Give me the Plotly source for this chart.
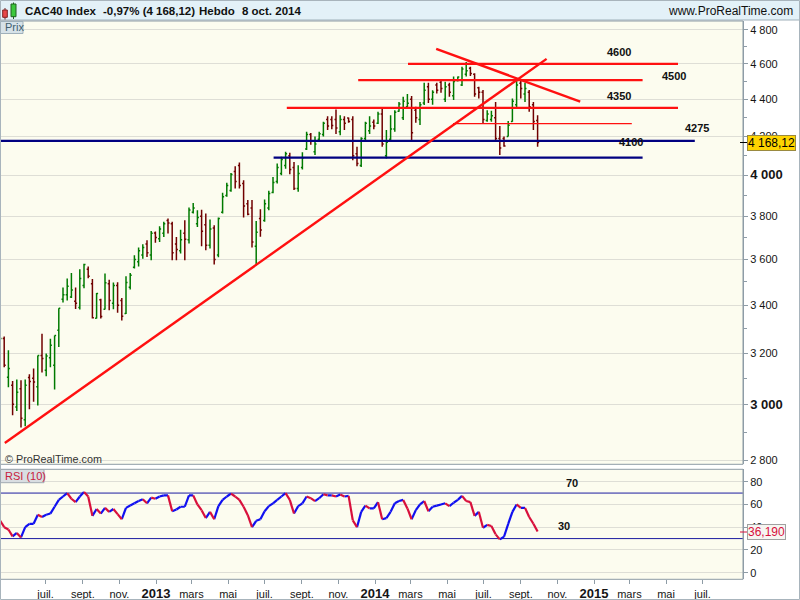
import plotly.graph_objects as go
import pandas as pd
import math

# ---------------- data ----------------
week_start = "2012-04-16"
n_weeks = 129
dates = pd.date_range(week_start, periods=n_weeks, freq="7D")

opens = [3210, 3261, 3106, 3075, 2992, 3062, 2945, 3105, 3102, 3069,
         3192, 3133, 3183, 3153, 3294, 3425, 3444, 3435, 3416, 3390,
         3485, 3556, 3492, 3344, 3423, 3382, 3492, 3408, 3485, 3420,
         3364, 3477, 3565, 3590, 3620, 3670, 3620, 3722, 3695, 3720,
         3780, 3765, 3670, 3640, 3720, 3690, 3820, 3765, 3800, 3760,
         3665, 3745, 3620, 3820, 3900, 3925, 4020, 4050, 3960, 3860,
         3840, 3660, 3790, 3780, 3840, 3915, 3970, 4010, 4050, 4100,
         4040, 3935, 4040, 4135, 4210, 4120, 4185, 4210, 4290, 4290,
         4290, 4225, 4290, 4298, 4290, 4110, 4050, 4190, 4230, 4275,
         4270, 4320, 4100, 4185, 4240, 4335, 4300, 4360, 4400, 4340,
         4290, 4380, 4470, 4400, 4480, 4495, 4400, 4480, 4420, 4505,
         4480, 4540, 4575, 4540, 4465, 4440, 4285, 4290, 4300, 4190,
         4190, 4200, 4280, 4370, 4490, 4430, 4440, 4370, 4285]
highs = [3290, 3269, 3213, 3091, 3097, 3094, 3097, 3118, 3140, 3192,
         3280, 3200, 3260, 3273, 3387, 3476, 3515, 3540, 3476, 3556,
         3581, 3568, 3513, 3452, 3427, 3537, 3510, 3498, 3499, 3430,
         3525, 3540, 3619, 3654, 3669, 3688, 3731, 3729, 3753, 3774,
         3790, 3774, 3703, 3737, 3782, 3842, 3864, 3829, 3832, 3813,
         3785, 3758, 3795, 3914, 3963, 4012, 4046, 4065, 3976, 3878,
         3878, 3778, 3834, 3881, 3924, 3992, 4060, 4094, 4120, 4115,
         4068, 4051, 4118, 4225, 4218, 4200, 4225, 4278, 4308, 4308,
         4344, 4313, 4308, 4301, 4308, 4146, 4196, 4278, 4308, 4290,
         4332, 4350, 4234, 4313, 4341, 4386, 4414, 4429, 4418, 4359,
         4386, 4493, 4493, 4450, 4493, 4504, 4498, 4493, 4528, 4528,
         4583, 4611, 4583, 4546, 4470, 4452, 4341, 4337, 4386, 4255,
         4200, 4282, 4405, 4517, 4508, 4493, 4452, 4386, 4313]
lows = [3180, 3145, 3067, 2962, 2977, 2916, 2921, 2984, 3012, 2998,
        3125, 3110, 3145, 3059, 3226, 3411, 3420, 3430, 3383, 3381,
        3472, 3516, 3343, 3343, 3343, 3381, 3378, 3382, 3368, 3335,
        3362, 3467, 3560, 3569, 3603, 3611, 3596, 3676, 3680, 3703,
        3719, 3596, 3596, 3627, 3596, 3673, 3814, 3750, 3660, 3642,
        3650, 3577, 3610, 3814, 3894, 3919, 3935, 3935, 3795, 3805,
        3654, 3574, 3704, 3774, 3829, 3911, 3960, 4001, 4034, 4006,
        3927, 3919, 4030, 4129, 4157, 4103, 4181, 4200, 4234, 4238,
        4213, 4207, 4234, 4273, 4077, 4046, 4043, 4181, 4213, 4238,
        4266, 4146, 4086, 4181, 4225, 4332, 4287, 4350, 4181, 4273,
        4261, 4369, 4380, 4370, 4433, 4437, 4386, 4414, 4396, 4500,
        4474, 4528, 4531, 4414, 4405, 4270, 4278, 4278, 4181, 4103,
        4146, 4200, 4278, 4350, 4405, 4386, 4332, 4234, 4146]
closes = [3261, 3153, 3140, 3003, 3048, 2950, 3075, 3090, 3088, 3192,
          3180, 3190, 3233, 3273, 3387, 3444, 3481, 3465, 3408, 3515,
          3577, 3525, 3346, 3450, 3352, 3497, 3420, 3485, 3399, 3353,
          3498, 3530, 3600, 3640, 3655, 3630, 3720, 3700, 3740, 3765,
          3768, 3630, 3645, 3690, 3692, 3830, 3840, 3795, 3730, 3665,
          3740, 3600, 3790, 3895, 3950, 4005, 3970, 3950, 3850, 3810,
          3680, 3725, 3735, 3860, 3910, 3965, 4040, 4080, 4110, 4030,
          3935, 4010, 4090, 4210, 4175, 4160, 4215, 4270, 4255, 4258,
          4245, 4290, 4270, 4280, 4100, 4060, 4190, 4270, 4255, 4255,
          4320, 4160, 4170, 4240, 4330, 4375, 4390, 4378, 4220, 4300,
          4370, 4450, 4400, 4440, 4450, 4460, 4470, 4440, 4500, 4525,
          4570, 4560, 4545, 4430, 4440, 4290, 4320, 4310, 4190, 4140,
          4150, 4260, 4390, 4480, 4460, 4460, 4360, 4280, 4168.12]
rsi10 = [46, 40, 38, 32, 35, 31, 40, 43, 43, 51,
         49, 51, 52, 58, 64, 67, 70, 65, 62, 67,
         71, 67, 50, 56, 52, 57, 53.5, 56, 51.5, 47,
         57, 59, 61, 63, 64.6, 61, 66, 65, 67, 68,
         68, 54, 55.6, 58, 58, 68, 68, 60, 55, 48,
         53.5, 47, 58.5, 64, 67, 69.6, 67, 64, 58, 50.6,
         40, 45.6, 47, 54, 58.5, 61, 64, 67, 70, 64,
         52, 58.5, 61, 67, 65.5, 63, 65.5, 69, 68, 68,
         67, 68.7, 67, 67.5, 46, 40, 53.5, 59, 56.5, 56.5,
         62, 47, 48, 53.5, 61, 63, 64, 56.5, 47, 55,
         60, 63, 54, 58, 59, 60, 61, 58.5, 61.5, 64,
         67.5, 63, 62, 50, 53.5, 39.5, 42, 41, 33.7, 29.3,
         31.6, 43, 53.5, 60, 57, 57, 49, 43, 36.19]

last_close_label = "4 168,12"
last_rsi_label = "36,190"

# drawn support / resistance levels
level_values = [4600, 4507, 4353, 4268, 4177, 4090]
level_starts = ["2014-02-25", "2013-12-04", "2013-08-07", "2014-05-11", None, "2013-07-16"]
level_ends = ["2015-05-21", "2015-03-23", "2015-05-21", "2015-03-05", "2015-06-18", "2015-03-23"]
level_names = ["4600", "4500", "4350", "4275", "4100"]

trend_up_dates = ["2012-04-24", "2014-10-14"]
trend_up_values = [2860, 4629]
trend_down_dates = ["2014-04-13", "2014-12-09"]
trend_down_values = [4687, 4388]

price_ticks = [2800, 3000, 3200, 3400, 3600, 3800, 4000, 4200, 4400, 4600, 4800]
price_minor = [2900, 3100, 3300, 3500, 3700, 3900, 4100, 4300, 4500, 4700]
rsi_ticks = [0, 20, 40, 60, 80]
rsi_levels = [70, 30]

month_ticks = ["2012-07-01", "2012-09-01", "2012-11-01", "2013-01-01", "2013-03-01",
               "2013-05-01", "2013-07-01", "2013-09-01", "2013-11-01", "2014-01-01",
               "2014-03-01", "2014-05-01", "2014-07-01", "2014-09-01", "2014-11-01",
               "2015-01-01", "2015-03-01", "2015-05-01", "2015-07-01"]
month_labels = ["juil.", "sept.", "nov.", "2013", "mars", "mai", "juil.", "sept.", "nov.",
                "2014", "mars", "mai", "juil.", "sept.", "nov.", "2015", "mars", "mai", "juil."]

# ---------------- helpers ----------------
W, H = 800, 600
def px(x):
    return x / W
def py(y):
    return 1 - y / H

FONT = "Liberation Sans, Arial, sans-serif"
X_START = pd.Timestamp("2012-04-17 16:00")
X_END = X_START + pd.Timedelta(days=742 / 0.6)

def fmt_price(v):
    s = f"{v:,}".replace(",", " ")
    if v % 1000 == 0:
        return f"<span style='font-size:13px'><b>{s}</b></span>"
    return s

def fmt_month(lbl):
    if lbl.isdigit():
        return f"<span style='font-size:13px'><b>{lbl}</b></span>"
    return lbl

fig = go.Figure()

# OHLC bars
fig.add_trace(go.Ohlc(
    x=dates, open=opens, high=highs, low=lows, close=closes,
    xaxis="x2", yaxis="y2",
    increasing=dict(line=dict(color="#007A00", width=1.5)),
    decreasing=dict(line=dict(color="#700000", width=1.5)),
    tickwidth=0.36, hoverinfo="skip", showlegend=False,
))

# horizontal levels
level_colors = ["#FF1010", "#FF1010", "#FF1010", "#FF1010", "#000080", "#000080"]
level_widths = [2.2, 2.2, 2.2, 1.2, 2.2, 2.2]
for v, s, e, c, w in zip(level_values, level_starts, level_ends, level_colors, level_widths):
    fig.add_trace(go.Scatter(x=[s if s is not None else X_START, e], y=[v, v],
                             mode="lines", line=dict(color=c, width=w),
                             xaxis="x2", yaxis="y2", hoverinfo="skip", showlegend=False))

# trend lines
fig.add_trace(go.Scatter(x=trend_up_dates, y=trend_up_values, mode="lines",
                         line=dict(color="#FF1010", width=2.4), xaxis="x2", yaxis="y2",
                         hoverinfo="skip", showlegend=False))
fig.add_trace(go.Scatter(x=trend_down_dates, y=trend_down_values, mode="lines",
                         line=dict(color="#FF1010", width=2.4), xaxis="x2", yaxis="y2",
                         hoverinfo="skip", showlegend=False))

# RSI reference levels
for lv in rsi_levels:
    fig.add_trace(go.Scatter(x=[X_START, X_END], y=[lv, lv], mode="lines",
                             line=dict(color="#1C1CA0", width=1), xaxis="x", yaxis="y",
                             hoverinfo="skip", showlegend=False))

# RSI line, blue when rising, red when falling
up_x, up_y, dn_x, dn_y = [], [], [], []
for i in range(1, len(rsi10)):
    seg_x = [dates[i - 1], dates[i], None]
    seg_y = [rsi10[i - 1], rsi10[i], None]
    if rsi10[i] >= rsi10[i - 1]:
        up_x += seg_x; up_y += seg_y
    else:
        dn_x += seg_x; dn_y += seg_y
fig.add_trace(go.Scatter(x=up_x, y=up_y, mode="lines", line=dict(color="#1010F0", width=2.2),
                         xaxis="x", yaxis="y", hoverinfo="skip", showlegend=False, connectgaps=False))
fig.add_trace(go.Scatter(x=dn_x, y=dn_y, mode="lines", line=dict(color="#D8103C", width=2.2),
                         xaxis="x", yaxis="y", hoverinfo="skip", showlegend=False, connectgaps=False))

x_dom = [px(1), px(743)]
price_dom = [py(464.3), py(21)]
rsi_dom = [py(579.3), py(469.3)]
axis_grey = "#8E9CA6"
grid_col = "#DEDED6"
tick_font = dict(family=FONT, size=11, color="#151515")

fig.update_layout(
    width=W, height=H,
    margin=dict(l=0, r=0, t=0, b=0),
    paper_bgcolor="white",
    plot_bgcolor="#FCFCEF",
    showlegend=False,
    xaxis=dict(domain=x_dom, anchor="y", type="date", range=[X_START, X_END],
               tickmode="array", tickvals=month_ticks,
               ticktext=[fmt_month(m) for m in month_labels],
               ticks="outside", ticklen=4, tickcolor=axis_grey, tickfont=tick_font,
               showgrid=False, zeroline=False, showline=False,
               rangeslider=dict(visible=False), automargin=False),
    xaxis2=dict(domain=x_dom, anchor="y2", type="date", matches="x", range=[X_START, X_END],
                showticklabels=False, ticks="", showgrid=False, zeroline=False,
                rangeslider=dict(visible=False), automargin=False),
    yaxis=dict(domain=rsi_dom, anchor="x", side="right", range=[-5.8, 90.9],
               tickmode="array", tickvals=rsi_ticks, ticks="outside", ticklen=4,
               tickcolor=axis_grey, tickfont=tick_font, showgrid=True, gridcolor=grid_col,
               zeroline=False, showline=True, linecolor=axis_grey, automargin=False),
    yaxis2=dict(domain=price_dom, anchor="x2", side="right", type="log",
                range=[math.log10(2785), math.log10(4854)],
                tickmode="array", tickvals=price_ticks,
                ticktext=[fmt_price(v) for v in price_ticks],
                ticks="outside", ticklen=4, tickcolor=axis_grey, tickfont=tick_font,
                minor=dict(tickmode="array", tickvals=price_minor, ticks="outside",
                           ticklen=3, tickcolor=axis_grey, showgrid=False),
                showgrid=True, gridcolor=grid_col, zeroline=False,
                showline=True, linecolor=axis_grey, automargin=False),
)

shapes = []
# header bar
shapes.append(dict(type="rect", xref="paper", yref="paper", x0=0, x1=1, y0=py(20), y1=1,
                   fillcolor="#E3F1F8", line=dict(width=0), layer="below"))
shapes.append(dict(type="line", xref="paper", yref="paper", x0=0, x1=1, y0=py(20), y1=py(20),
                   line=dict(color="#9FB0BA", width=1)))
# panel frames
shapes.append(dict(type="rect", xref="paper", yref="paper", x0=px(0.5), x1=px(743), y0=py(464.3), y1=py(21),
                   line=dict(color=axis_grey, width=1), fillcolor="rgba(0,0,0,0)"))
shapes.append(dict(type="rect", xref="paper", yref="paper", x0=px(0.5), x1=px(743), y0=py(579.3), y1=py(469.3),
                   line=dict(color=axis_grey, width=1), fillcolor="rgba(0,0,0,0)"))
# outer frame
shapes.append(dict(type="rect", xref="paper", yref="paper", x0=px(0.5), x1=px(799.5), y0=py(599.5), y1=py(0.5),
                   line=dict(color="#A8B4BC", width=1), fillcolor="rgba(0,0,0,0)"))
# icon: two candles
shapes.append(dict(type="line", xref="paper", yref="paper", x0=px(5), x1=px(5), y0=py(8), y1=py(19.5),
                   line=dict(color="#702020", width=1)))
shapes.append(dict(type="rect", xref="paper", yref="paper", x0=px(2.7), x1=px(7.3), y0=py(17.3), y1=py(10),
                   fillcolor="#E84848", line=dict(color="#802020", width=1)))
shapes.append(dict(type="line", xref="paper", yref="paper", x0=px(13.5), x1=px(13.5), y0=py(2.5), y1=py(19),
                   line=dict(color="#206020", width=1)))
shapes.append(dict(type="rect", xref="paper", yref="paper", x0=px(11), x1=px(16), y0=py(16.7), y1=py(4),
                   fillcolor="#3CC83C", line=dict(color="#206020", width=1)))
# "Prix" and "RSI (10)" label boxes
shapes.append(dict(type="rect", xref="paper", yref="paper", x0=px(0.5), x1=px(23), y0=py(33.5), y1=py(21.5),
                   fillcolor="#D6E2E8", line=dict(color="#9FB0BA", width=1)))
shapes.append(dict(type="rect", xref="paper", yref="paper", x0=px(0.5), x1=px(44), y0=py(482.7), y1=py(469.5),
                   fillcolor="#D9DEE2", line=dict(color="#A0AAB2", width=1)))
# small dash marks next to the value boxes
shapes.append(dict(type="line", xref="paper", yref="paper", x0=px(740), x1=px(747), y0=py(142.5), y1=py(142.5),
                   line=dict(color="#000000", width=1)))
shapes.append(dict(type="line", xref="paper", yref="paper", x0=px(740), x1=px(747), y0=py(532), y1=py(532),
                   line=dict(color="#D8103C", width=1)))
fig.update_layout(shapes=shapes)

ann = []
def text(x, y, s, size=11, color="#111111", anchor="left", bold=False, **kw):
    if bold:
        s = f"<b>{s}</b>"
    d = dict(xref="paper", yref="paper", x=px(x), y=py(y), text=s, showarrow=False,
             xanchor=anchor, yanchor="middle", font=dict(family=FONT, size=size, color=color))
    d.update(kw)
    ann.append(d)

# header
text(22.5, 11, "CAC40 Index", size=11.5, bold=True)
text(101, 11, "-0,97% (4 168,12)", size=11.5, bold=True)
text(196.5, 11, "Hebdo", size=11.5, bold=True)
text(240, 11, "8 oct. 2014", size=11.5, bold=True)
text(795, 11, "www.ProRealTime.com", size=12, anchor="right", color="#101010")
# panel labels
text(2.5, 27.5, "Prix", size=11, color="#40606E")
text(2.5, 476, "RSI (10)", size=11, color="#C8203C")
text(3, 459, "© ProRealTime.com", size=10.8, color="#333333")
# level labels
label_pos = [(618.5, 52), (673.5, 75.5), (619, 95.5), (696.5, 127.5), (631, 141.5)]
for (lx, ly), name in zip(label_pos, level_names):
    text(lx, ly, name, size=11, bold=True, anchor="center")
text(571.5, 482.5, "70", size=11, bold=True, anchor="center")
text(563.5, 525.5, "30", size=11, bold=True, anchor="center")
# last value boxes
text(747, 142.5, last_close_label, size=12, color="#000000", bgcolor="#FFD400",
     bordercolor="#9A8A40", borderwidth=1, borderpad=0)
text(747, 532, last_rsi_label, size=12, color="#D8103C", bgcolor="#F6F6F2",
     bordercolor="#A0A0A0", borderwidth=1, borderpad=0)
fig.update_layout(annotations=ann)

fig.write_html("out.html",
               config={"displayModeBar": False, "staticPlot": True},
               post_script="document.body.style.margin='0px';document.body.style.padding='0px';"
                           "document.documentElement.style.overflow='hidden';")
